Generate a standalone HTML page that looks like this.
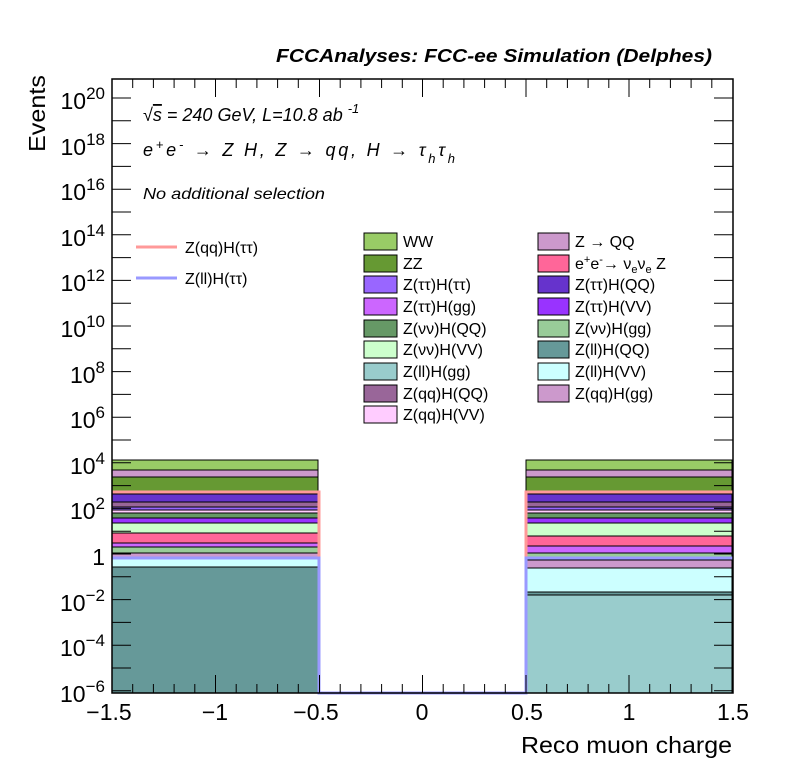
<!DOCTYPE html>
<html><head><meta charset="utf-8"><style>
body{margin:0;background:#fff}
svg text{font-family:"Liberation Sans",sans-serif}
</style></head><body>
<svg width="796" height="772" xmlns="http://www.w3.org/2000/svg">
<rect width="796" height="772" fill="#fff"/>
<g stroke="#000" stroke-width="1">
<rect x="112" y="567" width="206" height="126" fill="#669999"/>
<rect x="112" y="557" width="206" height="10" fill="#ccffff"/>
<rect x="112" y="553" width="206" height="4" fill="#cc99cc"/>
<rect x="112" y="547" width="206" height="6" fill="#99cc99"/>
<rect x="112" y="543" width="206" height="4" fill="#cc66ff"/>
<rect x="112" y="533" width="206" height="10" fill="#ff6699"/>
<rect x="112" y="523" width="206" height="10" fill="#ccffcc"/>
<rect x="112" y="518" width="206" height="5" fill="#9933ff"/>
<rect x="112" y="513" width="206" height="5" fill="#669966"/>
<rect x="112" y="510" width="206" height="3" fill="#ffccff"/>
<rect x="112" y="507" width="206" height="3" fill="#9966ff"/>
<rect x="112" y="502" width="206" height="5" fill="#996699"/>
<rect x="112" y="494" width="206" height="8" fill="#6633cc"/>
<rect x="112" y="477" width="206" height="16" fill="#669933"/>
<rect x="112" y="470" width="206" height="7" fill="#cc99cc"/>
<rect x="112" y="460" width="206" height="10" fill="#99cc66"/>
</g>
<g stroke="#000" stroke-width="1">
<rect x="526" y="595" width="206" height="98" fill="#99cccc"/>
<rect x="526" y="592" width="206" height="3" fill="#669999"/>
<rect x="526" y="568" width="206" height="24" fill="#ccffff"/>
<rect x="526" y="560" width="206" height="8" fill="#cc99cc"/>
<rect x="526" y="553" width="206" height="7" fill="#99cc99"/>
<rect x="526" y="546" width="206" height="7" fill="#cc66ff"/>
<rect x="526" y="536" width="206" height="10" fill="#ff6699"/>
<rect x="526" y="523" width="206" height="13" fill="#ccffcc"/>
<rect x="526" y="518" width="206" height="5" fill="#9933ff"/>
<rect x="526" y="513" width="206" height="5" fill="#669966"/>
<rect x="526" y="510" width="206" height="3" fill="#ffccff"/>
<rect x="526" y="507" width="206" height="3" fill="#9966ff"/>
<rect x="526" y="502" width="206" height="5" fill="#996699"/>
<rect x="526" y="494" width="206" height="8" fill="#6633cc"/>
<rect x="526" y="477" width="206" height="16" fill="#669933"/>
<rect x="526" y="470" width="206" height="7" fill="#cc99cc"/>
<rect x="526" y="460" width="206" height="10" fill="#99cc66"/>
</g>
<path d="M112 492 H319 V693 H526 V492 H733" fill="none" stroke="#ff9999" stroke-width="3"/>
<path d="M112 558 H319 V693 H526 V558 H733" fill="none" stroke="#9999ff" stroke-width="3"/>
<rect x="112" y="79" width="621" height="614" fill="none" stroke="#000" stroke-width="1.5"/>
<g stroke="#000" stroke-width="1">
<path d="M112 690.8h19M112 668h19M112 645.2h19M112 622.4h19M112 599.6h19M112 576.8h19M112 554h19M112 531.2h19M112 508.4h19M112 485.6h19M112 462.8h19M112 440h19M112 417.2h19M112 394.4h19M112 371.6h19M112 348.8h19M112 326h19M112 303.2h19M112 280.4h19M112 257.6h19M112 234.8h19M112 212h19M112 189.2h19M112 166.4h19M112 143.6h19M112 120.8h19M112 98h19"/>
<path d="M733 690.8h-19M733 668h-19M733 645.2h-19M733 622.4h-19M733 599.6h-19M733 576.8h-19M733 554h-19M733 531.2h-19M733 508.4h-19M733 485.6h-19M733 462.8h-19M733 440h-19M733 417.2h-19M733 394.4h-19M733 371.6h-19M733 348.8h-19M733 326h-19M733 303.2h-19M733 280.4h-19M733 257.6h-19M733 234.8h-19M733 212h-19M733 189.2h-19M733 166.4h-19M733 143.6h-19M733 120.8h-19M733 98h-19"/>
<path d="M112 693v-18M319.5 693v-18M422.5 693v-18M526 693v-18M215.5 693v-18M629 693v-18M733 693v-18
M132.7 693v-9M153.4 693v-9M174.1 693v-9M194.8 693v-9M236.2 693v-9M256.9 693v-9M277.6 693v-9M298.3 693v-9M340.2 693v-9M360.9 693v-9M381.6 693v-9M402.3 693v-9M443.2 693v-9M463.9 693v-9M484.6 693v-9M505.3 693v-9M546.7 693v-9M567.4 693v-9M588.1 693v-9M608.8 693v-9M649.7 693v-9M670.4 693v-9M691.1 693v-9M711.8 693v-9"/>
<path d="M112 79v18M319.5 79v18M422.5 79v18M526 79v18M215.5 79v18M629 79v18M733 79v18
M132.7 79v9M153.4 79v9M174.1 79v9M194.8 79v9M236.2 79v9M256.9 79v9M277.6 79v9M298.3 79v9M340.2 79v9M360.9 79v9M381.6 79v9M402.3 79v9M443.2 79v9M463.9 79v9M484.6 79v9M505.3 79v9M546.7 79v9M567.4 79v9M588.1 79v9M608.8 79v9M649.7 79v9M670.4 79v9M691.1 79v9M711.8 79v9"/>
</g>
<g font-size="23" text-anchor="end" fill="#000">
<text x="105" y="109">10<tspan font-size="17" dy="-10">20</tspan></text>
<text x="105" y="155">10<tspan font-size="17" dy="-10">18</tspan></text>
<text x="105" y="200">10<tspan font-size="17" dy="-10">16</tspan></text>
<text x="105" y="246">10<tspan font-size="17" dy="-10">14</tspan></text>
<text x="105" y="291">10<tspan font-size="17" dy="-10">12</tspan></text>
<text x="105" y="337">10<tspan font-size="17" dy="-10">10</tspan></text>
<text x="105" y="383">10<tspan font-size="17" dy="-10">8</tspan></text>
<text x="105" y="428">10<tspan font-size="17" dy="-10">6</tspan></text>
<text x="105" y="474">10<tspan font-size="17" dy="-10">4</tspan></text>
<text x="105" y="519">10<tspan font-size="17" dy="-10">2</tspan></text>
<text x="105" y="565">1</text>
<text x="105" y="611">10<tspan font-size="17" dy="-10">−2</tspan></text>
<text x="105" y="656">10<tspan font-size="17" dy="-10">−4</tspan></text>
<text x="105" y="702">10<tspan font-size="17" dy="-10">−6</tspan></text>
</g>
<g font-size="23" text-anchor="middle" fill="#000">
<text x="109" y="720">−1.5</text>
<text x="215" y="720">−1</text>
<text x="316" y="720">−0.5</text>
<text x="422" y="720">0</text>
<text x="527" y="720">0.5</text>
<text x="629" y="720">1</text>
<text x="733" y="720">1.5</text>
</g>
<text x="732" y="753" font-size="23" text-anchor="end" textLength="211" lengthAdjust="spacingAndGlyphs">Reco muon charge</text>
<text transform="translate(45,152) rotate(-90)" font-size="23" textLength="77" lengthAdjust="spacingAndGlyphs">Events</text>
<text x="712" y="62" font-size="18" font-weight="bold" font-style="italic" text-anchor="end" textLength="436" lengthAdjust="spacingAndGlyphs">FCCAnalyses: FCC-ee Simulation (Delphes)</text>
<g font-style="italic" font-size="18">
<text x="143" y="121">√<tspan text-decoration="overline">s</tspan> = 240 GeV, L=10.8 ab <tspan font-size="13" dy="-8">-1</tspan></text>
<text x="143" y="156" textLength="312" lengthAdjust="spacing">e<tspan font-size="13" dy="-7">+</tspan><tspan dy="7">e</tspan><tspan font-size="13" dy="-7">-</tspan><tspan dy="7"> → Z H, Z  → qq, H  → τ</tspan><tspan font-size="13" dy="7">h</tspan><tspan dy="-7">τ</tspan><tspan font-size="13" dy="7">h</tspan></text>
<text x="143" y="199" font-size="16" textLength="182" lengthAdjust="spacingAndGlyphs">No additional selection</text>
</g>
<path d="M136 247h41" stroke="#ff9999" stroke-width="3"/>
<path d="M136 278h41" stroke="#9999ff" stroke-width="3"/>
<g font-size="16">
<text x="185" y="253">Z(qq)H(ττ)</text>
<text x="185" y="284">Z(ll)H(ττ)</text>
</g>
<g stroke="#000" stroke-width="1">
<rect x="364" y="233" width="33" height="17" fill="#99cc66"/>
<rect x="364" y="255" width="33" height="17" fill="#669933"/>
<rect x="364" y="276" width="33" height="17" fill="#9966ff"/>
<rect x="364" y="298" width="33" height="17" fill="#cc66ff"/>
<rect x="364" y="320" width="33" height="17" fill="#669966"/>
<rect x="364" y="341" width="33" height="17" fill="#ccffcc"/>
<rect x="364" y="363" width="33" height="17" fill="#99cccc"/>
<rect x="364" y="385" width="33" height="17" fill="#996699"/>
<rect x="364" y="406" width="33" height="17" fill="#ffccff"/>
<rect x="538" y="233" width="31" height="17" fill="#cc99cc"/>
<rect x="538" y="255" width="31" height="17" fill="#ff6699"/>
<rect x="538" y="276" width="31" height="17" fill="#6633cc"/>
<rect x="538" y="298" width="31" height="17" fill="#9933ff"/>
<rect x="538" y="320" width="31" height="17" fill="#99cc99"/>
<rect x="538" y="341" width="31" height="17" fill="#669999"/>
<rect x="538" y="363" width="31" height="17" fill="#ccffff"/>
<rect x="538" y="385" width="31" height="17" fill="#cc99cc"/>
</g>
<g font-size="16">
<text x="403" y="247">WW</text>
<text x="403" y="269">ZZ</text>
<text x="403" y="290">Z(ττ)H(ττ)</text>
<text x="403" y="312">Z(ττ)H(gg)</text>
<text x="403" y="334">Z(νν)H(QQ)</text>
<text x="403" y="355">Z(νν)H(VV)</text>
<text x="403" y="377">Z(ll)H(gg)</text>
<text x="403" y="399">Z(qq)H(QQ)</text>
<text x="403" y="420">Z(qq)H(VV)</text>
<text x="575" y="247">Z → QQ</text>
<text x="575" y="269">e<tspan font-size="11" dy="-6">+</tspan><tspan dy="6">e</tspan><tspan font-size="11" dy="-6">-</tspan><tspan dy="6">→ ν</tspan><tspan font-size="11" dy="4">e</tspan><tspan dy="-4">ν</tspan><tspan font-size="11" dy="4">e</tspan><tspan dy="-4"> Z</tspan></text>
<text x="575" y="290">Z(ττ)H(QQ)</text>
<text x="575" y="312">Z(ττ)H(VV)</text>
<text x="575" y="334">Z(νν)H(gg)</text>
<text x="575" y="355">Z(ll)H(QQ)</text>
<text x="575" y="377">Z(ll)H(VV)</text>
<text x="575" y="399">Z(qq)H(gg)</text>
</g>
</svg>
</body></html>
